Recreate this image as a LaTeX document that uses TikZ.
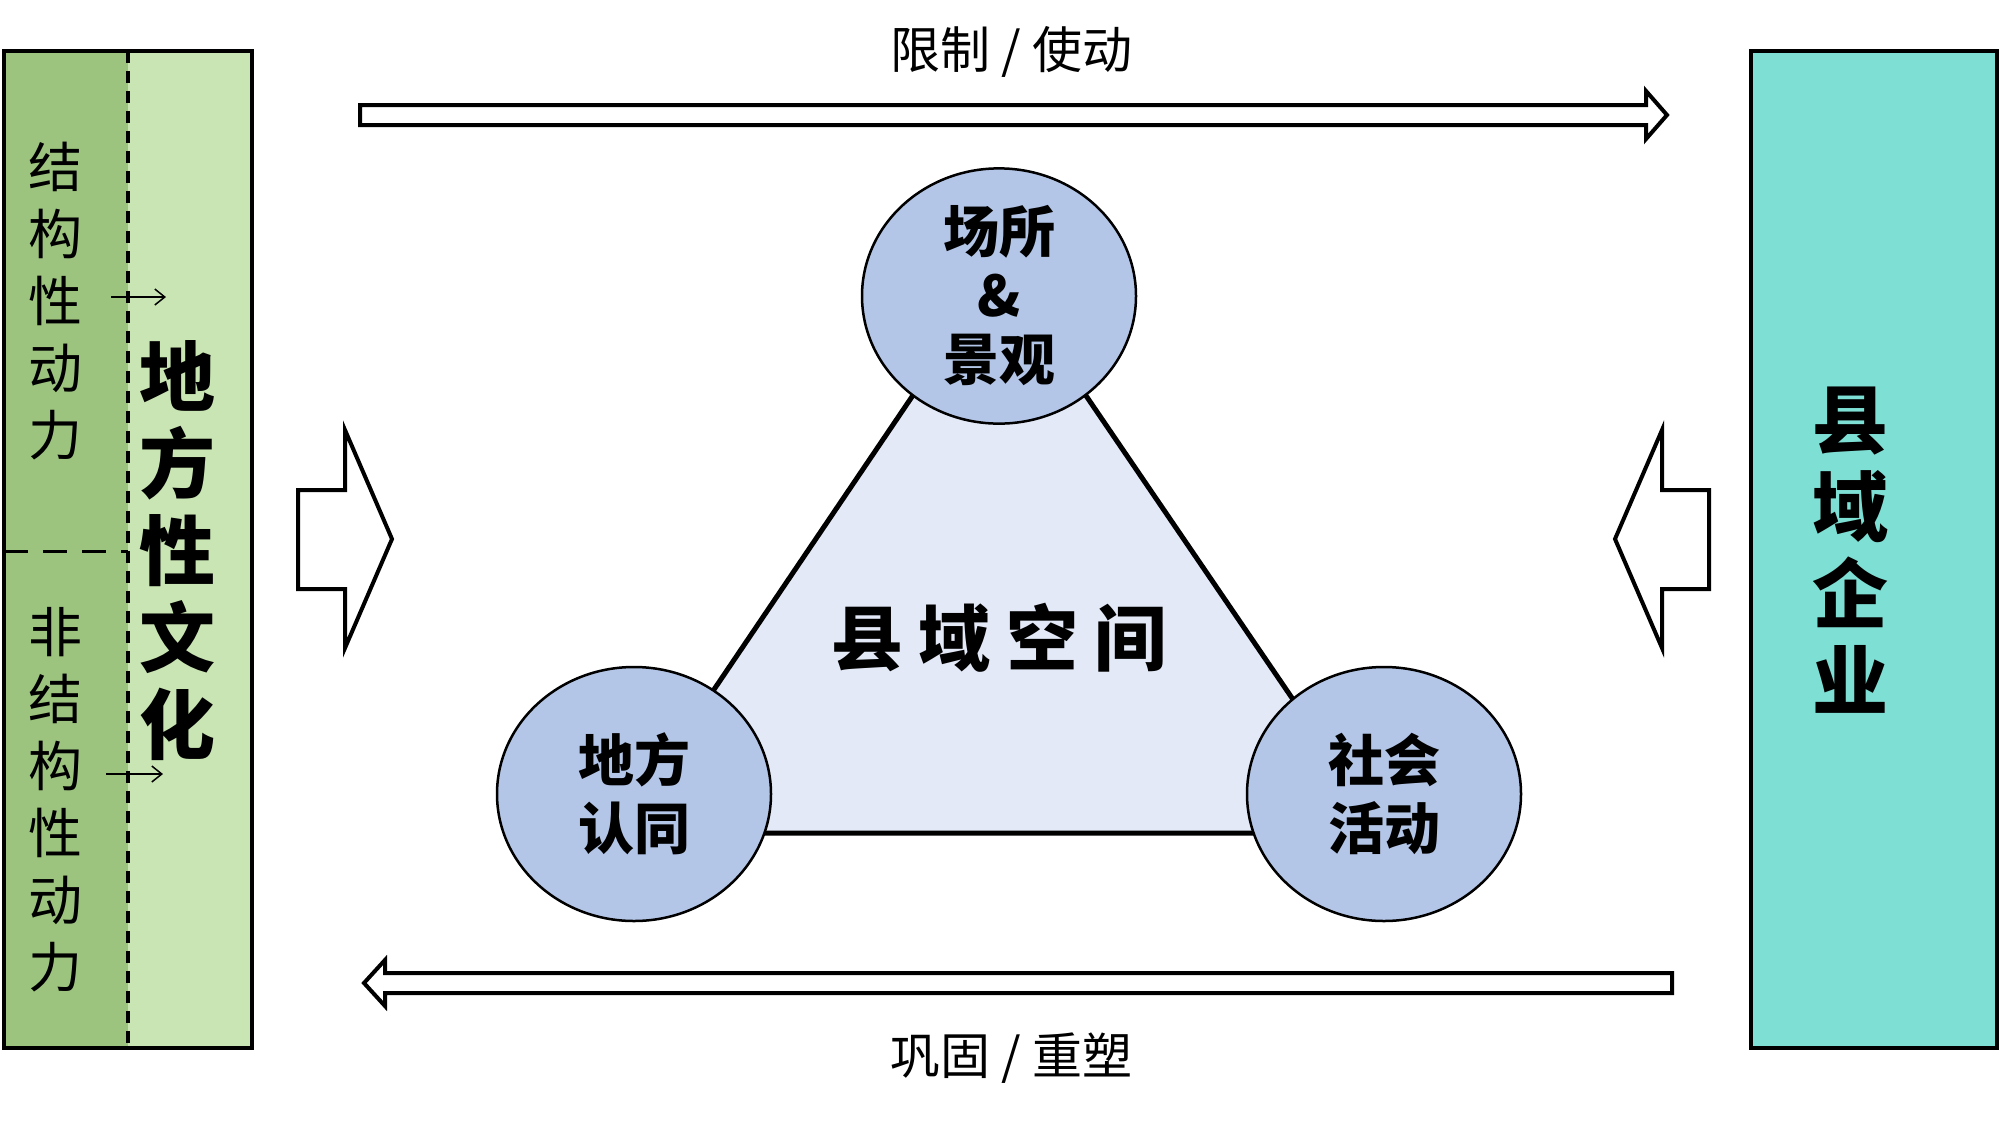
\documentclass[tikz,border=0pt]{standalone}
\usepackage{fontspec}
\setmainfont{Noto Sans CJK SC}[BoldFont={Noto Sans CJK SC Black}]
\usetikzlibrary{shapes.geometric,arrows.meta}
\definecolor{darkgreen}{HTML}{9DC47F}
\definecolor{lightgreen}{HTML}{C9E5B3}
\definecolor{teal}{HTML}{7EDFD4}
\definecolor{circfill}{HTML}{B4C6E7}
\definecolor{trifill}{HTML}{E3E9F7}
\tikzset{
  boxline/.style={line width=4pt},
  dashline/.style={line width=3.5pt, dash pattern=on 12pt off 8pt},
  bigarrow/.style={draw, fill=white, line width=4pt, line join=miter},
  circ/.style={ellipse, draw, line width=2.5pt, fill=circfill, minimum width=274pt, minimum height=254pt, inner sep=0pt, align=center, font=\fontsize{56}{68}\selectfont\bfseries},
  smalltxt/.style={align=center, font=\fontsize{54}{67}\selectfont, inner sep=0pt},
  bigtxt/.style={align=center, font=\fontsize{76}{87}\selectfont\bfseries, inner sep=0pt},
  lbl/.style={font=\fontsize{50}{60}\selectfont, inner sep=0pt},
  thinarrow/.style={->, line width=1.5pt, >={Straight Barb[length=10pt,width=16pt]}}
}
\begin{document}
\begin{tikzpicture}[x=1pt,y=-1pt]
\useasboundingbox (0,0) rectangle (2000,1120);
\fill[white] (0,0) rectangle (2000,1120);
% left box
\fill[darkgreen] (4,51) rectangle (128,1048);
\fill[lightgreen] (128,51) rectangle (252,1048);
\draw[boxline] (4,51) rectangle (252,1048);
\draw[dashline] (128,51) -- (128,1048);
\draw[line width=3pt, dash pattern=on 24pt off 15pt] (4,551) -- (128,551);
\node[smalltxt] (struct) at (55,301) {结\\构\\性\\动\\力};
\node[smalltxt] (nonstruct) at (55,800) {非\\结\\构\\性\\动\\力};
\node[bigtxt] (culture) at (177,551) {地\\方\\性\\文\\化};
\coordinate (s1) at (111,297); \coordinate (s2) at (166,297);
\coordinate (n1) at (106,774); \coordinate (n2) at (163,774);
\draw[thinarrow] (s1) -- (s2);
\draw[thinarrow] (n1) -- (n2);
% right box
\fill[teal] (1751,51) rectangle (1997,1048);
\draw[boxline] (1751,51) rectangle (1997,1048);
\node[bigtxt] (firm) at (1850,550) {县\\域\\企\\业};
% top/bottom arrows
\draw[bigarrow] (360,105) -- (1646,105) -- (1646,91) -- (1667,115) -- (1646,139) -- (1646,125) -- (360,125) -- cycle;
\node[lbl] (top) at (1011,52) {限制 / 使动};
\draw[bigarrow] (1672,973) -- (385,973) -- (385,960) -- (364,983) -- (385,1006) -- (385,993) -- (1672,993) -- cycle;
\node[lbl] (bot) at (1011,1058) {巩固 / 重塑};
% block arrows
\draw[bigarrow] (298,490) -- (345,490) -- (345,430) -- (392,539) -- (345,648) -- (345,589) -- (298,589) -- cycle;
\draw[bigarrow] (1709,490) -- (1662,490) -- (1662,430) -- (1615,539) -- (1662,648) -- (1662,589) -- (1709,589) -- cycle;
% triangle
\coordinate (tA) at (999,268);
\coordinate (tB) at (617,833);
\coordinate (tC) at (1384,833);
\draw[fill=trifill, line width=5pt, line join=miter] (tA) -- (tB) -- (tC) -- cycle;
\node[font=\fontsize{72}{80}\selectfont\bfseries, inner sep=0pt] (space) at (999,638) {县\hspace{16pt}域\hspace{16pt}空\hspace{16pt}间};
\node[circ] (place) at (999,296) {场所\\[-4pt]\&\\[-4pt]景观};
\node[circ] (ident) at (634,794) {地方\\认同};
\node[circ] (social) at (1384,794) {社会\\活动};
\end{tikzpicture}
\end{document}
